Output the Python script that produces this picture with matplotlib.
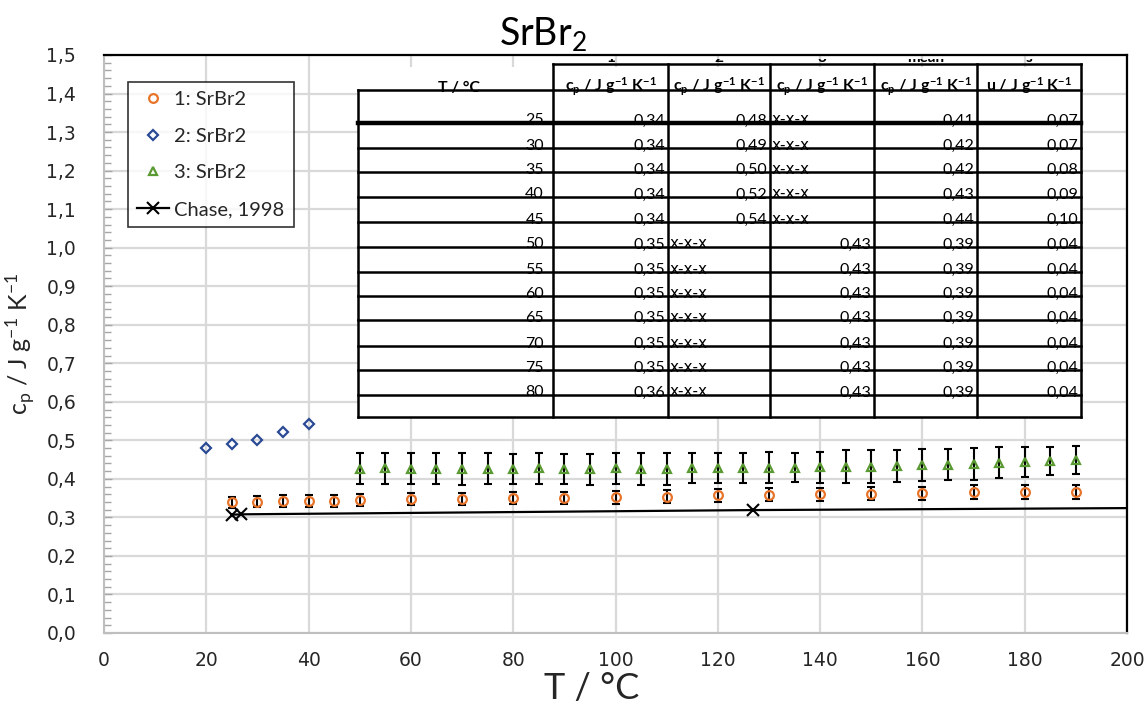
import matplotlib
matplotlib.use('Agg')
import matplotlib.pyplot as plt
from matplotlib.patches import Rectangle
from matplotlib.transforms import Bbox, TransformedBbox
from matplotlib.ticker import MultipleLocator, FuncFormatter

plt.rcParams['font.family'] = ['Lato', 'DejaVu Sans']
plt.rcParams['mathtext.fontset'] = 'custom'
plt.rcParams['mathtext.rm'] = 'Lato'
plt.rcParams['mathtext.it'] = 'Lato:italic'
plt.rcParams['mathtext.bf'] = 'Lato:bold'

# ---------------- data ----------------
t1 = [25, 30, 35, 40, 45, 50, 60, 70, 80, 90, 100, 110, 120, 130, 140, 150, 160, 170, 180, 190]
cp1 = [0.339, 0.341, 0.342, 0.342, 0.342, 0.345, 0.348, 0.348, 0.350, 0.350,
       0.352, 0.354, 0.357, 0.359, 0.360, 0.361, 0.363, 0.365, 0.367, 0.367]
err1 = [0.014, 0.014, 0.015, 0.015, 0.015, 0.015, 0.015, 0.016, 0.016, 0.016,
        0.016, 0.016, 0.016, 0.017, 0.017, 0.017, 0.017, 0.018, 0.018, 0.018]

t2 = [20, 25, 30, 35, 40]
cp2 = [0.481, 0.490, 0.500, 0.521, 0.543]

t3 = [50, 55, 60, 65, 70, 75, 80, 85, 90, 95, 100, 105, 110, 115, 120, 125, 130, 135,
      140, 145, 150, 155, 160, 165, 170, 175, 180, 185, 190]
cp3 = [0.426, 0.427, 0.426, 0.426, 0.425, 0.426, 0.425, 0.427, 0.425, 0.425, 0.427,
       0.426, 0.425, 0.427, 0.428, 0.428, 0.429, 0.429, 0.430, 0.432, 0.432, 0.434,
       0.436, 0.437, 0.439, 0.442, 0.444, 0.446, 0.449]
err3 = [0.040, 0.040, 0.040, 0.040, 0.041, 0.040, 0.039, 0.040, 0.039, 0.040, 0.040,
        0.041, 0.041, 0.039, 0.039, 0.039, 0.040, 0.038, 0.041, 0.042, 0.042, 0.041,
        0.041, 0.040, 0.041, 0.040, 0.039, 0.037, 0.037]

t_chase = [25.0, 26.85, 126.85, 226.85]
cp_chase = [0.307, 0.308, 0.319, 0.326]

labels = ['1: SrBr2', '2: SrBr2', '3: SrBr2', 'Chase, 1998']

# table contents
tab_cols = ['T / °C',
            r'c$_\mathbf{p}$ / J g$^\mathbf{-1}$ K$^\mathbf{-1}$',
            r'c$_\mathbf{p}$ / J g$^\mathbf{-1}$ K$^\mathbf{-1}$',
            r'c$_\mathbf{p}$ / J g$^\mathbf{-1}$ K$^\mathbf{-1}$',
            r'c$_\mathbf{p}$ / J g$^\mathbf{-1}$ K$^\mathbf{-1}$',
            r'u / J g$^\mathbf{-1}$ K$^\mathbf{-1}$']
tab_top = ['', '1', '2', '3', 'mean', 's']
tab_T = ['25', '30', '35', '40', '45', '50', '55', '60', '65', '70', '75', '80']
tab_c1 = ['0,34', '0,34', '0,34', '0,34', '0,34', '0,35', '0,35', '0,35', '0,35', '0,35', '0,35', '0,36']
tab_c2 = ['0,48', '0,49', '0,50', '0,52', '0,54', 'x-x-x', 'x-x-x', 'x-x-x', 'x-x-x', 'x-x-x', 'x-x-x', 'x-x-x']
tab_c3 = ['x-x-x', 'x-x-x', 'x-x-x', 'x-x-x', 'x-x-x', '0,43', '0,43', '0,43', '0,43', '0,43', '0,43', '0,43']
tab_mean = ['0,41', '0,42', '0,42', '0,43', '0,44', '0,39', '0,39', '0,39', '0,39', '0,39', '0,39', '0,39']
tab_u = ['0,07', '0,07', '0,08', '0,09', '0,10', '0,04', '0,04', '0,04', '0,04', '0,04', '0,04', '0,04']

# ---------------- figure ----------------
W, H = 1148, 714
fig = plt.figure(figsize=(W / 100, H / 100), dpi=100)
L, R, T, B = 104, 1127, 55, 633
ax = fig.add_axes([L / W, 1 - B / H, (R - L) / W, (B - T) / H])

c_or = '#E8742A'
c_bl = '#2B4A96'
c_gr = '#5A9A32'
txt = '#262626'
grid = '#D9D9D9'

ax.set_xlim(0, 200)
ax.set_ylim(0, 1.5)
ax.xaxis.set_major_locator(MultipleLocator(20))
ax.yaxis.set_major_locator(MultipleLocator(0.1))
ax.yaxis.set_minor_locator(MultipleLocator(0.02))
ax.yaxis.set_major_formatter(FuncFormatter(lambda v, p: f'{v:.1f}'.replace('.', ',')))
ax.grid(True, which='major', color=grid, lw=1.6, zorder=0)
ax.set_axisbelow(True)
ax.tick_params(axis='x', length=0, pad=13, labelsize=13.5, labelcolor=txt)
ax.tick_params(axis='y', which='both', direction='in', color='#A6A6A6', labelsize=13.5,
               labelcolor=txt, pad=20)
ax.tick_params(axis='y', which='major', length=6, width=1)
ax.tick_params(axis='y', which='minor', length=5, width=1)
for lab in ax.get_xticklabels() + ax.get_yticklabels():
    lab.set_family(['DejaVu Sans'])
for s in ['left', 'bottom']:
    ax.spines[s].set_color('#BFBFBF')
    ax.spines[s].set_linewidth(1.5)
for s in ['top', 'right']:
    ax.spines[s].set_color('black')
    ax.spines[s].set_linewidth(1.6)

ax.errorbar(t1, cp1, yerr=err1, fmt='none', ecolor='black', elinewidth=1.5,
            capsize=2.8, capthick=1.5, zorder=3)
ax.errorbar(t3, cp3, yerr=err3, fmt='none', ecolor='black', elinewidth=1.5,
            capsize=2.8, capthick=1.5, zorder=3)
ax.plot(t1, cp1, 'o', ms=6.3, mfc='none', mec=c_or, mew=1.6, label=labels[0], zorder=4)
ax.plot(t2, cp2, 'D', ms=5.3, mfc='none', mec=c_bl, mew=1.6, label=labels[1], zorder=4)
ax.plot(t3, cp3, '^', ms=6.3, mfc='none', mec=c_gr, mew=1.6, label=labels[2], zorder=4)
ax.plot(t_chase, cp_chase, '-', color='black', lw=1.6, marker='x', ms=8, mew=1.5,
        label=labels[3], zorder=4)

leg = ax.legend(loc='upper left', bbox_to_anchor=((128 - L) / (R - L), (B - 82) / (B - T)),
                borderaxespad=0, frameon=True, fancybox=False, edgecolor='black',
                fontsize=14.5, labelspacing=0.97, handlelength=1.6, handletextpad=0.25,
                borderpad=0.45)
leg.get_frame().set_linewidth(1.2)
for t in leg.get_texts():
    t.set_color(txt)

ax.set_ylabel(r'c$_\mathrm{p}$ / J g$^{-1}$ K$^{-1}$', fontsize=18, color=txt, labelpad=7)
ax.set_xlabel('T / °C', fontsize=26, color=txt)
ax.xaxis.set_label_coords((592 - L) / (R - L), (B - 672) / (B - T))
ax.xaxis.label.set_va('top')

fig.text(543 / W, 1 - 45 / H, r'SrBr$_2$', fontsize=27, ha='center', va='baseline', color='black')

# ---------------- table overlay (pixel coordinate axes) ----------------
tx = fig.add_axes([0, 0, 1, 1], zorder=5)
tx.set_xlim(0, W)
tx.set_ylim(H, 0)
tx.axis('off')

col_x = [358, 553, 668, 770, 874, 977, 1081]
head_top, head_line, tab_bot = 64, 90, 417
row_lines = [123, 148, 172, 197, 222, 247, 272, 296, 320, 346, 370, 395]

tx.add_patch(Rectangle((col_x[0], 67), col_x[-1] - col_x[0], tab_bot - 67,
                       facecolor='white', edgecolor='none', zorder=1))
lw_t = 1.8
tx.plot([col_x[0], col_x[0]], [head_line, tab_bot], color='black', lw=lw_t, zorder=3)
for xc in col_x[1:]:
    tx.plot([xc, xc], [head_top, tab_bot], color='black', lw=lw_t, zorder=3)
tx.plot([col_x[1], col_x[-1]], [head_top, head_top], color='black', lw=lw_t, zorder=3)
tx.plot([col_x[0], col_x[-1]], [head_line, head_line], color='black', lw=lw_t, zorder=3)
for i, yl in enumerate(row_lines):
    tx.plot([col_x[0], col_x[-1]], [yl, yl], color='black', lw=3.2 if i == 0 else lw_t, zorder=3)
tx.plot([col_x[0], col_x[-1]], [tab_bot, tab_bot], color='black', lw=lw_t, zorder=3)

# header
for j, h in enumerate(tab_cols):
    xc = (col_x[j] + col_x[j + 1]) / 2
    tx.text(xc + (3 if j == 0 else 0), 92 if j == 0 else 91, h, ha='center', va='baseline',
            fontsize=11.5, fontweight='bold', color='black', zorder=2)
clip = TransformedBbox(Bbox([[col_x[1], 58.5], [col_x[-1], 64]]), tx.transData)
for j, h in enumerate(tab_top):
    if not h:
        continue
    xc = (col_x[j] + col_x[j + 1]) / 2
    t = tx.text(xc, 62, h, ha='center', va='baseline', fontsize=11, fontweight='bold',
                color='black', zorder=2, clip_on=True)
    t.set_clip_path(None)
    t.set_clip_box(clip)

cols = [tab_T, tab_c1, tab_c2, tab_c3, tab_mean, tab_u]
for j, col in enumerate(cols):
    for i, v in enumerate(col):
        yb = row_lines[i] + 1.5
        if v.startswith('x'):
            tx.text(col_x[j] + 2, yb, v, ha='left', va='baseline', fontsize=11,
                    family=['DejaVu Sans'], color='black', zorder=2)
        else:
            tx.text(col_x[j + 1] - (9 if j == 0 else 3), yb, v, ha='right', va='baseline',
                    fontsize=11.5, color='black', zorder=2)

fig.savefig('out.png', dpi=100)
